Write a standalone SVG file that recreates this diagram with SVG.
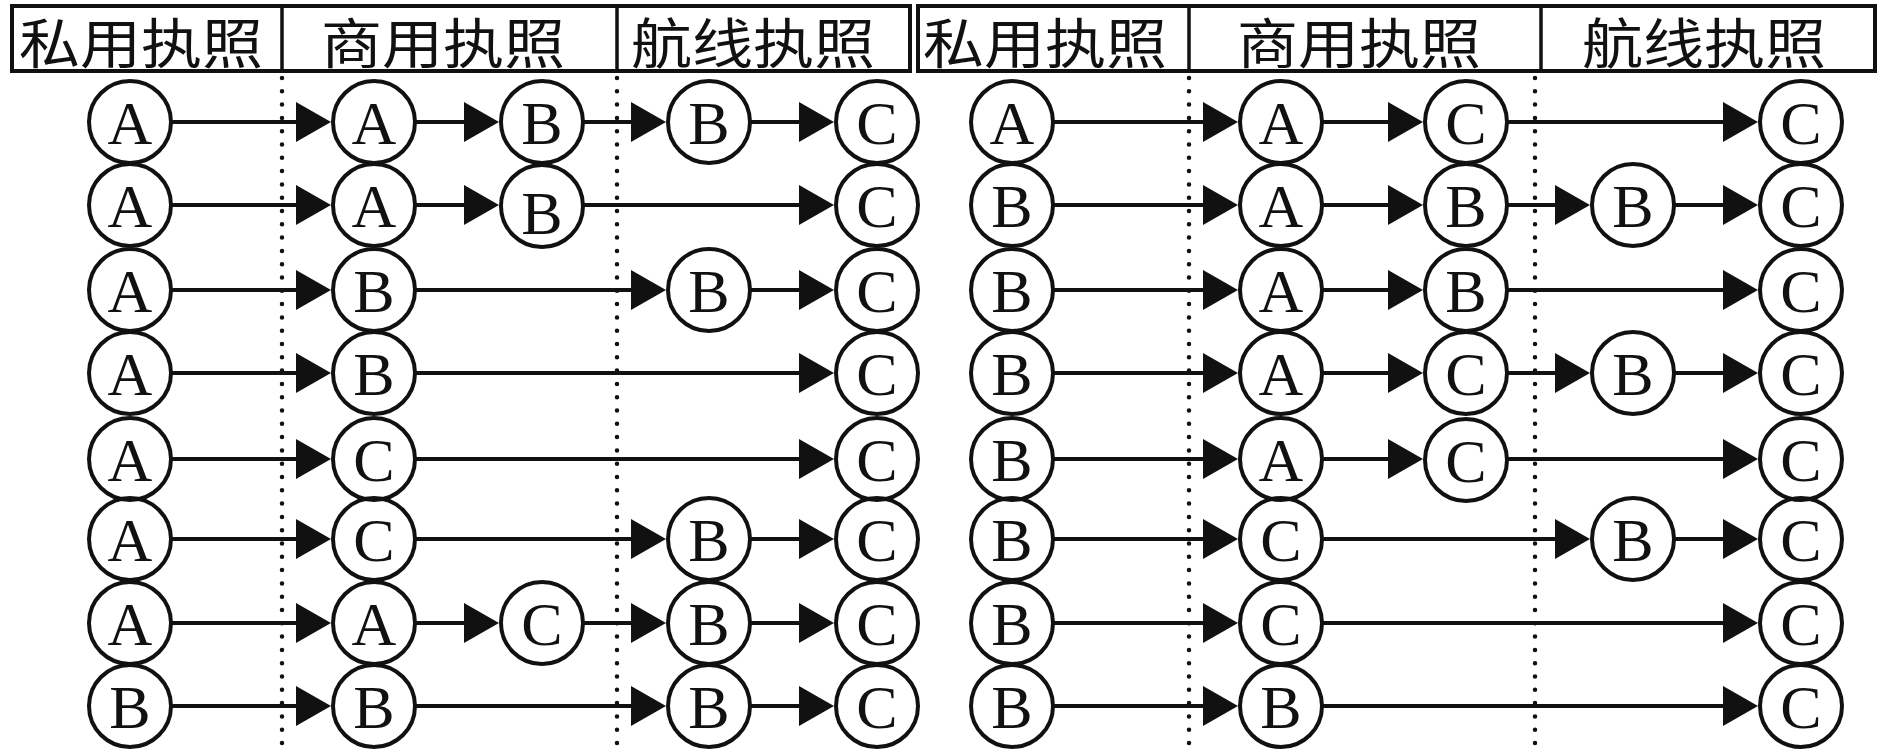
<svg xmlns="http://www.w3.org/2000/svg" width="1890" height="756" viewBox="0 0 1890 756">
<style>
.bg{fill:#ffffff}
.hdr{fill:none;stroke:#111;stroke-width:4}
.div{stroke:#111;stroke-width:3.5}
.dot{stroke:#111;stroke-width:4.5;stroke-linecap:round;stroke-dasharray:0 13.3;fill:none}
.ht{font-family:"Noto Sans CJK SC","Noto Sans CJK TC",sans-serif;font-size:54px;fill:#111;text-anchor:middle}
.n circle{fill:none;stroke:#111;stroke-width:4}
.n text{font-family:"Liberation Serif","Times New Roman",serif;font-size:62px;fill:#111;text-anchor:middle}
.c line{stroke:#111;stroke-width:4;marker-end:url(#ah)}
</style>
<defs>
<marker id="ah" markerUnits="userSpaceOnUse" markerWidth="36" markerHeight="40" refX="5" refY="20" orient="auto" viewBox="0 0 36 40">
<path d="M0,0 L35,20 L0,40 Z" fill="#111"/>
</marker>
</defs>
<rect class="bg" x="0" y="0" width="1890" height="756"/>
<g id="header">
<rect class="hdr" x="12" y="6" width="898" height="65"/>
<line class="div" x1="282" y1="6" x2="282" y2="71"/>
<line class="div" x1="617" y1="6" x2="617" y2="71"/>
<rect class="hdr" x="918" y="6" width="957" height="65"/>
<line class="div" x1="1189" y1="6" x2="1189" y2="71"/>
<line class="div" x1="1541" y1="6" x2="1541" y2="71"/>
<text class="ht" transform="translate(141,63.5) scale(1.13,1)">私用执照</text>
<text class="ht" transform="translate(443,63.5) scale(1.13,1)">商用执照</text>
<text class="ht" transform="translate(753,63.5) scale(1.13,1)">航线执照</text>
<text class="ht" transform="translate(1045,63.5) scale(1.13,1)">私用执照</text>
<text class="ht" transform="translate(1359,63.5) scale(1.13,1)">商用执照</text>
<text class="ht" transform="translate(1704,63.5) scale(1.13,1)">航线执照</text>
</g>
<g id="dividers">
<line class="dot" x1="282" y1="78" x2="282" y2="752"/>
<line class="dot" x1="617" y1="78" x2="617" y2="752"/>
<line class="dot" x1="1189" y1="78" x2="1189" y2="752"/>
<line class="dot" x1="1535" y1="78" x2="1535" y2="752"/>
</g>
<g id="connectors" class="c">
<line x1="171" y1="122" x2="301" y2="122"/>
<line x1="415" y1="122" x2="469" y2="122"/>
<line x1="583" y1="122" x2="636" y2="122"/>
<line x1="750" y1="122" x2="804" y2="122"/>
<line x1="171" y1="205" x2="301" y2="205"/>
<line x1="415" y1="205" x2="469" y2="205"/>
<line x1="583" y1="205" x2="804" y2="205"/>
<line x1="171" y1="290" x2="301" y2="290"/>
<line x1="415" y1="290" x2="636" y2="290"/>
<line x1="750" y1="290" x2="804" y2="290"/>
<line x1="171" y1="373" x2="301" y2="373"/>
<line x1="415" y1="373" x2="804" y2="373"/>
<line x1="171" y1="459" x2="301" y2="459"/>
<line x1="415" y1="459" x2="804" y2="459"/>
<line x1="171" y1="539" x2="301" y2="539"/>
<line x1="415" y1="539" x2="636" y2="539"/>
<line x1="750" y1="539" x2="804" y2="539"/>
<line x1="171" y1="623" x2="301" y2="623"/>
<line x1="415" y1="623" x2="469" y2="623"/>
<line x1="583" y1="623" x2="636" y2="623"/>
<line x1="750" y1="623" x2="804" y2="623"/>
<line x1="171" y1="706" x2="301" y2="706"/>
<line x1="415" y1="706" x2="636" y2="706"/>
<line x1="750" y1="706" x2="804" y2="706"/>
<line x1="1053" y1="122" x2="1208" y2="122"/>
<line x1="1322" y1="122" x2="1393" y2="122"/>
<line x1="1507" y1="122" x2="1728" y2="122"/>
<line x1="1053" y1="205" x2="1208" y2="205"/>
<line x1="1322" y1="205" x2="1393" y2="205"/>
<line x1="1507" y1="205" x2="1560" y2="205"/>
<line x1="1674" y1="205" x2="1728" y2="205"/>
<line x1="1053" y1="290" x2="1208" y2="290"/>
<line x1="1322" y1="290" x2="1393" y2="290"/>
<line x1="1507" y1="290" x2="1728" y2="290"/>
<line x1="1053" y1="373" x2="1208" y2="373"/>
<line x1="1322" y1="373" x2="1393" y2="373"/>
<line x1="1507" y1="373" x2="1560" y2="373"/>
<line x1="1674" y1="373" x2="1728" y2="373"/>
<line x1="1053" y1="459" x2="1208" y2="459"/>
<line x1="1322" y1="459" x2="1393" y2="459"/>
<line x1="1507" y1="459" x2="1728" y2="459"/>
<line x1="1053" y1="539" x2="1208" y2="539"/>
<line x1="1322" y1="539" x2="1560" y2="539"/>
<line x1="1674" y1="539" x2="1728" y2="539"/>
<line x1="1053" y1="623" x2="1208" y2="623"/>
<line x1="1322" y1="623" x2="1728" y2="623"/>
<line x1="1053" y1="706" x2="1208" y2="706"/>
<line x1="1322" y1="706" x2="1728" y2="706"/>
</g>
<g id="L1a" class="n"><circle cx="130" cy="122" r="41"/><text x="130" y="144">A</text></g>
<g id="L1b" class="n"><circle cx="374" cy="122" r="41"/><text x="374" y="144">A</text></g>
<g id="L1c" class="n"><circle cx="542" cy="122" r="41"/><text x="542" y="144">B</text></g>
<g id="L1d" class="n"><circle cx="709" cy="122" r="41"/><text x="709" y="144">B</text></g>
<g id="L1e" class="n"><circle cx="877" cy="122" r="41"/><text x="877" y="144">C</text></g>
<g id="L2a" class="n"><circle cx="130" cy="205" r="41"/><text x="130" y="227">A</text></g>
<g id="L2b" class="n"><circle cx="374" cy="205" r="41"/><text x="374" y="227">A</text></g>
<g id="L2c" class="n"><circle cx="542" cy="206" r="41"/><text x="542" y="234">B</text></g>
<g id="L2e" class="n"><circle cx="877" cy="205" r="41"/><text x="877" y="227">C</text></g>
<g id="L3a" class="n"><circle cx="130" cy="290" r="41"/><text x="130" y="312">A</text></g>
<g id="L3b" class="n"><circle cx="374" cy="290" r="41"/><text x="374" y="312">B</text></g>
<g id="L3d" class="n"><circle cx="709" cy="290" r="41"/><text x="709" y="312">B</text></g>
<g id="L3e" class="n"><circle cx="877" cy="290" r="41"/><text x="877" y="312">C</text></g>
<g id="L4a" class="n"><circle cx="130" cy="373" r="41"/><text x="130" y="395">A</text></g>
<g id="L4b" class="n"><circle cx="374" cy="373" r="41"/><text x="374" y="395">B</text></g>
<g id="L4e" class="n"><circle cx="877" cy="373" r="41"/><text x="877" y="395">C</text></g>
<g id="L5a" class="n"><circle cx="130" cy="459" r="41"/><text x="130" y="481">A</text></g>
<g id="L5b" class="n"><circle cx="374" cy="459" r="41"/><text x="374" y="481">C</text></g>
<g id="L5e" class="n"><circle cx="877" cy="459" r="41"/><text x="877" y="481">C</text></g>
<g id="L6a" class="n"><circle cx="130" cy="539" r="41"/><text x="130" y="561">A</text></g>
<g id="L6b" class="n"><circle cx="374" cy="539" r="41"/><text x="374" y="561">C</text></g>
<g id="L6d" class="n"><circle cx="709" cy="539" r="41"/><text x="709" y="561">B</text></g>
<g id="L6e" class="n"><circle cx="877" cy="539" r="41"/><text x="877" y="561">C</text></g>
<g id="L7a" class="n"><circle cx="130" cy="623" r="41"/><text x="130" y="645">A</text></g>
<g id="L7b" class="n"><circle cx="374" cy="623" r="41"/><text x="374" y="645">A</text></g>
<g id="L7c" class="n"><circle cx="542" cy="623" r="41"/><text x="542" y="645">C</text></g>
<g id="L7d" class="n"><circle cx="709" cy="623" r="41"/><text x="709" y="645">B</text></g>
<g id="L7e" class="n"><circle cx="877" cy="623" r="41"/><text x="877" y="645">C</text></g>
<g id="L8a" class="n"><circle cx="130" cy="706" r="41"/><text x="130" y="728">B</text></g>
<g id="L8b" class="n"><circle cx="374" cy="706" r="41"/><text x="374" y="728">B</text></g>
<g id="L8d" class="n"><circle cx="709" cy="706" r="41"/><text x="709" y="728">B</text></g>
<g id="L8e" class="n"><circle cx="877" cy="706" r="41"/><text x="877" y="728">C</text></g>
<g id="R1a" class="n"><circle cx="1012" cy="122" r="41"/><text x="1012" y="144">A</text></g>
<g id="R1b" class="n"><circle cx="1281" cy="122" r="41"/><text x="1281" y="144">A</text></g>
<g id="R1c" class="n"><circle cx="1466" cy="122" r="41"/><text x="1466" y="144">C</text></g>
<g id="R1e" class="n"><circle cx="1801" cy="122" r="41"/><text x="1801" y="144">C</text></g>
<g id="R2a" class="n"><circle cx="1012" cy="205" r="41"/><text x="1012" y="227">B</text></g>
<g id="R2b" class="n"><circle cx="1281" cy="205" r="41"/><text x="1281" y="227">A</text></g>
<g id="R2c" class="n"><circle cx="1466" cy="205" r="41"/><text x="1466" y="227">B</text></g>
<g id="R2d" class="n"><circle cx="1633" cy="205" r="41"/><text x="1633" y="227">B</text></g>
<g id="R2e" class="n"><circle cx="1801" cy="205" r="41"/><text x="1801" y="227">C</text></g>
<g id="R3a" class="n"><circle cx="1012" cy="290" r="41"/><text x="1012" y="312">B</text></g>
<g id="R3b" class="n"><circle cx="1281" cy="290" r="41"/><text x="1281" y="312">A</text></g>
<g id="R3c" class="n"><circle cx="1466" cy="290" r="41"/><text x="1466" y="312">B</text></g>
<g id="R3e" class="n"><circle cx="1801" cy="290" r="41"/><text x="1801" y="312">C</text></g>
<g id="R4a" class="n"><circle cx="1012" cy="373" r="41"/><text x="1012" y="395">B</text></g>
<g id="R4b" class="n"><circle cx="1281" cy="373" r="41"/><text x="1281" y="395">A</text></g>
<g id="R4c" class="n"><circle cx="1466" cy="373" r="41"/><text x="1466" y="395">C</text></g>
<g id="R4d" class="n"><circle cx="1633" cy="373" r="41"/><text x="1633" y="395">B</text></g>
<g id="R4e" class="n"><circle cx="1801" cy="373" r="41"/><text x="1801" y="395">C</text></g>
<g id="R5a" class="n"><circle cx="1012" cy="459" r="41"/><text x="1012" y="481">B</text></g>
<g id="R5b" class="n"><circle cx="1281" cy="459" r="41"/><text x="1281" y="481">A</text></g>
<g id="R5c" class="n"><circle cx="1466" cy="460" r="41"/><text x="1466" y="482">C</text></g>
<g id="R5e" class="n"><circle cx="1801" cy="459" r="41"/><text x="1801" y="481">C</text></g>
<g id="R6a" class="n"><circle cx="1012" cy="539" r="41"/><text x="1012" y="561">B</text></g>
<g id="R6b" class="n"><circle cx="1281" cy="539" r="41"/><text x="1281" y="561">C</text></g>
<g id="R6d" class="n"><circle cx="1633" cy="539" r="41"/><text x="1633" y="561">B</text></g>
<g id="R6e" class="n"><circle cx="1801" cy="539" r="41"/><text x="1801" y="561">C</text></g>
<g id="R7a" class="n"><circle cx="1012" cy="623" r="41"/><text x="1012" y="645">B</text></g>
<g id="R7b" class="n"><circle cx="1281" cy="623" r="41"/><text x="1281" y="645">C</text></g>
<g id="R7e" class="n"><circle cx="1801" cy="623" r="41"/><text x="1801" y="645">C</text></g>
<g id="R8a" class="n"><circle cx="1012" cy="706" r="41"/><text x="1012" y="728">B</text></g>
<g id="R8b" class="n"><circle cx="1281" cy="706" r="41"/><text x="1281" y="728">B</text></g>
<g id="R8e" class="n"><circle cx="1801" cy="706" r="41"/><text x="1801" y="728">C</text></g>
</svg>
